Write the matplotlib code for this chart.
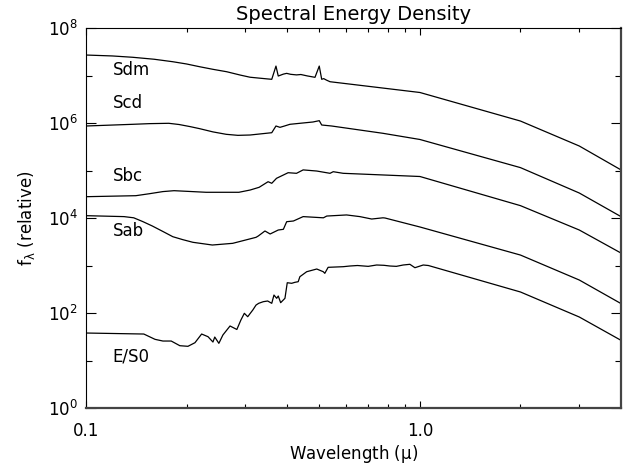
import matplotlib
matplotlib.use("Agg")
import matplotlib.pyplot as plt
from matplotlib.ticker import NullFormatter

# wavelength in micron, flux f_lambda (relative, offset per type)
sdm_lam = [0.100, 0.120, 0.138, 0.160, 0.182, 0.200, 0.219, 0.240, 0.264, 0.290,
           0.310, 0.348, 0.360, 0.3706, 0.3765, 0.390, 0.399, 0.410, 0.427, 0.440,
           0.460, 0.485, 0.4995, 0.508, 0.515, 0.525, 0.538, 1.0, 2.0, 3.0, 4.0]
sdm_flux = [2.70e7, 2.58e7, 2.42e7, 2.2e7, 1.95e7, 1.75e7, 1.53e7, 1.35e7, 1.20e7, 1.02e7,
            9.2e6, 8.5e6, 8.32e6, 1.58e7, 9.75e6, 1.07e7, 1.11e7, 1.06e7, 1.03e7, 1.05e7,
            9.8e6, 9.16e6, 1.58e7, 8.32e6, 8.6e6, 8.0e6, 7.40e6, 4.39e6, 1.10e6, 3.28e5, 1.03e5]

scd_lam = [0.100, 0.138, 0.155, 0.177, 0.190, 0.205, 0.219, 0.240, 0.263, 0.285,
           0.310, 0.360, 0.3706, 0.381, 0.392, 0.408, 0.437, 0.478, 0.4995, 0.508,
           0.544, 0.775, 1.0, 2.0, 3.0, 4.0]
scd_flux = [8.65e5, 9.39e5, 9.7e5, 9.86e5, 9.3e5, 8.4e5, 7.6e5, 6.5e5, 5.78e5, 5.5e5,
            5.59e5, 6.25e5, 8.65e5, 8.11e5, 8.6e5, 9.39e5, 9.86e5, 1.05e6, 1.12e6, 9.08e5,
            8.65e5, 6.07e5, 4.50e5, 1.15e5, 3.36e4, 1.07e4]

sbc_lam = [0.100, 0.141, 0.155, 0.170, 0.1835, 0.200, 0.229, 0.287, 0.310, 0.330,
           0.351, 0.360, 0.372, 0.390, 0.403, 0.427, 0.447, 0.491, 0.538, 0.550,
           0.589, 1.0, 2.0, 3.0, 4.0]
sbc_flux = [2.81e4, 2.95e4, 3.25e4, 3.6e4, 3.76e4, 3.65e4, 3.48e4, 3.48e4, 3.88e4, 4.43e4,
            5.81e4, 5.38e4, 6.85e4, 8.04e4, 8.99e4, 8.73e4, 1.03e5, 9.75e4, 8.73e4, 9.44e4,
            8.73e4, 7.48e4, 1.82e4, 5.59e3, 1.83e3]

sab_lam = [0.100, 0.130, 0.139, 0.148, 0.158, 0.170, 0.182, 0.195, 0.209, 0.239,
           0.275, 0.323, 0.328, 0.3435, 0.356, 0.3765, 0.390, 0.399, 0.418, 0.447,
           0.514, 0.526, 0.603, 0.661, 0.717, 0.775, 0.786, 1.0, 2.0, 3.0, 4.0]
sab_flux = [1.12e4, 1.07e4, 1.01e4, 8.4e3, 6.79e3, 5.2e3, 4.04e3, 3.5e3, 3.08e3, 2.70e3,
            2.93e3, 3.92e3, 4.18e3, 5.33e3, 4.61e3, 5.59e3, 5.78e3, 8.36e3, 8.65e3, 1.07e4,
            1.01e4, 1.10e4, 1.16e4, 1.07e4, 9.52e3, 1.01e4, 1.0e4, 6.47e3, 1.66e3, 495, 158]

es0_lam = [0.100, 0.149, 0.161, 0.170, 0.180, 0.191, 0.202, 0.212, 0.222, 0.232,
           0.240, 0.243, 0.250, 0.257, 0.270, 0.283, 0.291, 0.298, 0.305, 0.316,
           0.323, 0.329, 0.3395, 0.350, 0.360, 0.3655, 0.3724, 0.3765, 0.3828, 0.3943,
           0.4006, 0.413, 0.4225, 0.432, 0.437, 0.458, 0.491, 0.5135, 0.519, 0.531,
           0.589, 0.617, 0.65, 0.70, 0.742, 0.78, 0.813, 0.85, 0.891, 0.933,
           0.966, 1.023, 1.06, 2.0, 3.0, 4.0]
es0_flux = [37.9, 36.1, 27.9, 25.7, 25.7, 20.5, 19.9, 23.7, 36.1, 31.7,
            24.5, 31.2, 23.0, 34.4, 53.3, 45.0, 71.2, 98.6, 83.6, 116,
            147, 160, 173, 179, 160, 239, 204, 228, 165, 204,
            434, 422, 443, 456, 581, 740, 844, 740, 685, 916,
            944, 976, 1000, 960, 1025, 1010, 976, 960, 1025, 1060,
            899, 1025, 1000, 277, 82.4, 26.6]

type_names = ["Sdm", "Scd", "Sbc", "Sab", "E/S0"]
label_y = [1.31e7, 2.64e6, 7.66e4, 5.33e3, 11.9]

spectra = [(sdm_lam, sdm_flux), (scd_lam, scd_flux), (sbc_lam, sbc_flux),
           (sab_lam, sab_flux), (es0_lam, es0_flux)]

plt.rcParams['font.family'] = 'DejaVu Sans'
plt.rcParams['mathtext.default'] = 'regular'

fig = plt.figure(figsize=(6.34, 4.70), dpi=100)
ax = fig.add_axes([0.1356, 0.1319, 0.8439, 0.8085])

for (lam, flux), name, ly in zip(spectra, type_names, label_y):
    ax.plot(lam, flux, color='black', lw=0.9)
    ax.text(0.12, ly, name, fontsize=12, ha='left', va='center')

ax.set_xscale('log')
ax.set_yscale('log')
ax.set_xlim(0.1, 4.0)
ax.set_ylim(1, 1e8)

ax.set_xticks([0.1, 1.0])
ax.set_xticklabels(['0.1', '1.0'])
ax.set_xticks([0.2, 0.3, 0.4, 0.5, 0.6, 0.7, 0.8, 0.9, 2, 3], minor=True)
ax.xaxis.set_minor_formatter(NullFormatter())

ax.set_yticks([1e0, 1e2, 1e4, 1e6, 1e8])
ax.set_yticklabels([r'$10^{0}$', r'$10^{2}$', r'$10^{4}$', r'$10^{6}$', r'$10^{8}$'])
ax.set_yticks([1e1, 1e3, 1e5, 1e7], minor=True)
ax.yaxis.set_minor_formatter(NullFormatter())

ax.tick_params(which='both', direction='in', top=True, right=True, labelsize=12, width=0.8)
ax.tick_params(axis='x', which='major', length=5, pad=10)
ax.tick_params(axis='x', which='minor', length=3)
ax.tick_params(axis='y', which='major', length=7, pad=6)
ax.tick_params(axis='y', which='minor', length=4)

for side in ['left', 'top']:
    ax.spines[side].set_linewidth(0.8)
for side in ['bottom', 'right']:
    ax.spines[side].set_linewidth(1.6)
    ax.spines[side].set_color('#444444')

ax.set_title('Spectral Energy Density', fontsize=14, pad=6)
ax.set_xlabel(r'Wavelength ($\mu$)', fontsize=12, labelpad=2)
ax.set_ylabel(r'f$_\lambda$ (relative)', fontsize=12, labelpad=8)

fig.savefig('out.png', dpi=100)
